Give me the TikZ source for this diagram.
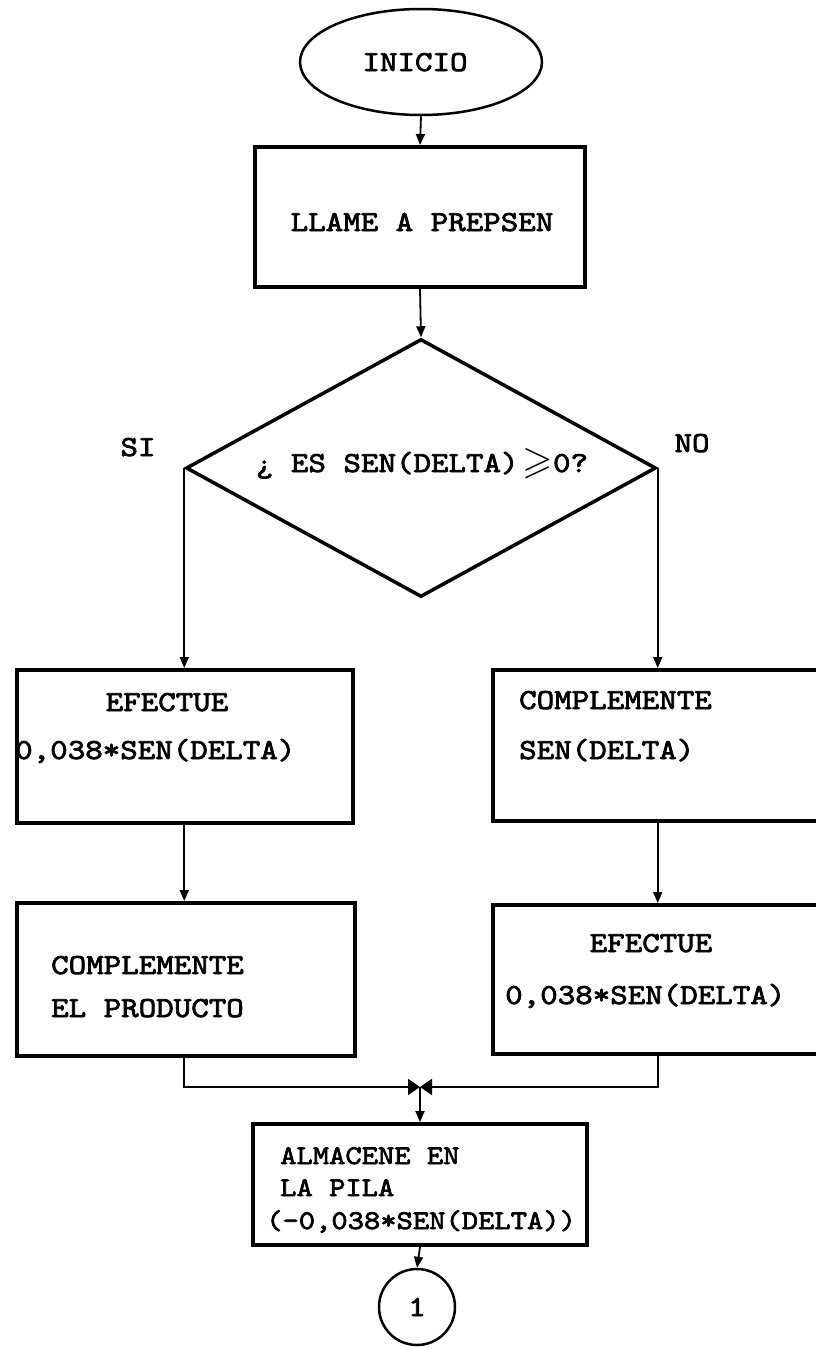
\documentclass[tikz,border=0pt]{standalone}
\usepackage{amssymb}
\usepackage{fontspec}
\newfontfamily\tw{lmmono10-regular.otf}[FakeStretch=1.15,FakeBold=2.6]
\usetikzlibrary{shapes.geometric,arrows.meta}
\tikzset{
  boxnode/.style={draw, line width=4pt, inner sep=0pt},
  conn/.style={line width=1.8pt},
  arr/.style={conn, -{Triangle[length=11pt,width=9pt]}},
  bow/.style={conn, -{Triangle[length=12pt,width=16pt]}},
  txt/.style={font=\tw\fontsize{29}{31}\selectfont, inner sep=0pt},
  txts/.style={font=\tw\fontsize{27}{29}\selectfont, inner sep=0pt}
}
\begin{document}
\begin{tikzpicture}[x=1pt,y=-1pt]
\useasboundingbox (0,0) rectangle (816,1349);
\clip (0,0) rectangle (816,1349);
% shapes
\node[draw, ellipse, line width=2.5pt, minimum width=242pt, minimum height=106pt, inner sep=0pt] (inicio) at (421,62) {};
\node[boxnode, minimum width=330pt, minimum height=140pt] (llame) at (420,217) {};
\node[draw, diamond, line width=3.5pt, minimum width=470pt, minimum height=258pt, inner sep=0pt] (dia) at (421,468) {};
\node[boxnode, minimum width=336pt, minimum height=153pt] (ul) at (185,746.5) {};
\node[boxnode, minimum width=337pt, minimum height=151pt] (ur) at (661.5,745.5) {};
\node[boxnode, minimum width=338pt, minimum height=153pt] (ll) at (186,979.5) {};
\node[boxnode, minimum width=337pt, minimum height=149pt] (lr) at (661.5,979.5) {};
\node[boxnode, minimum width=334pt, minimum height=121pt] (alm) at (420,1184.5) {};
\node[draw, circle, line width=2.5pt, minimum size=76pt, inner sep=0pt] (one) at (417,1307) {};
\coordinate (m) at (420,1087);
% texts
\node[txt, anchor=base] (t0) at (415,71) {INICIO};
\node[txt, anchor=base] (t1) at (422,231) {LLAME A PREPSEN};
\node[txt, anchor=base] (t2) at (422,472) {¿ ES SEN(DELTA)\hspace{4pt}\raisebox{-1pt}{\scalebox{1.35}{$\geqslant$}}0?};
\node[txt, anchor=base] (si) at (138,456) {SI};
\node[txt, anchor=base] (no) at (692,452) {NO};
\node[txt, anchor=base] (t3) at (167,711) {EFECTUE};
\node[txt, anchor=base west] (t4) at (15,759) {0,038*SEN(DELTA)};
\node[txt, anchor=base west] (t5) at (519,709) {COMPLEMENTE};
\node[txt, anchor=base west] (t6) at (519,759) {SEN(DELTA)};
\node[txt, anchor=base west] (t7) at (51,974) {COMPLEMENTE};
\node[txt, anchor=base west] (t8) at (51,1017) {EL PRODUCTO};
\node[txt, anchor=base] (t9) at (651,952) {EFECTUE};
\node[txt, anchor=base west] (t10) at (505,1004) {0,038*SEN(DELTA)};
\node[txts, anchor=base west] (t11) at (280,1164) {ALMACENE EN};
\node[txts, anchor=base west] (t12) at (280,1196) {LA PILA};
\node[txts, anchor=base west] (t13) at (266,1229) {(-0,038*SEN(DELTA))};
\node[txt, anchor=base] (t14) at (417,1316) {1};
% connectors
\draw[arr] (inicio.south) -- (llame.north);
\draw[arr] (llame.south) -- (dia.north);
\draw[arr] (dia.west) -- (dia.west |- ul.north);
\draw[arr] (dia.east) -- (dia.east |- ur.north);
\draw[arr] (dia.west |- ul.south) -- (dia.west |- ll.north);
\draw[arr] (dia.east |- ur.south) -- (dia.east |- lr.north);
\draw[bow] (dia.west |- ll.south) -- (dia.west |- m) -- (m);
\draw[bow] (dia.east |- lr.south) -- (dia.east |- m) -- (m);
\draw[arr] (m) -- (alm.north);
\draw[arr] (alm.south) -- (one.north);
\end{tikzpicture}
\end{document}
